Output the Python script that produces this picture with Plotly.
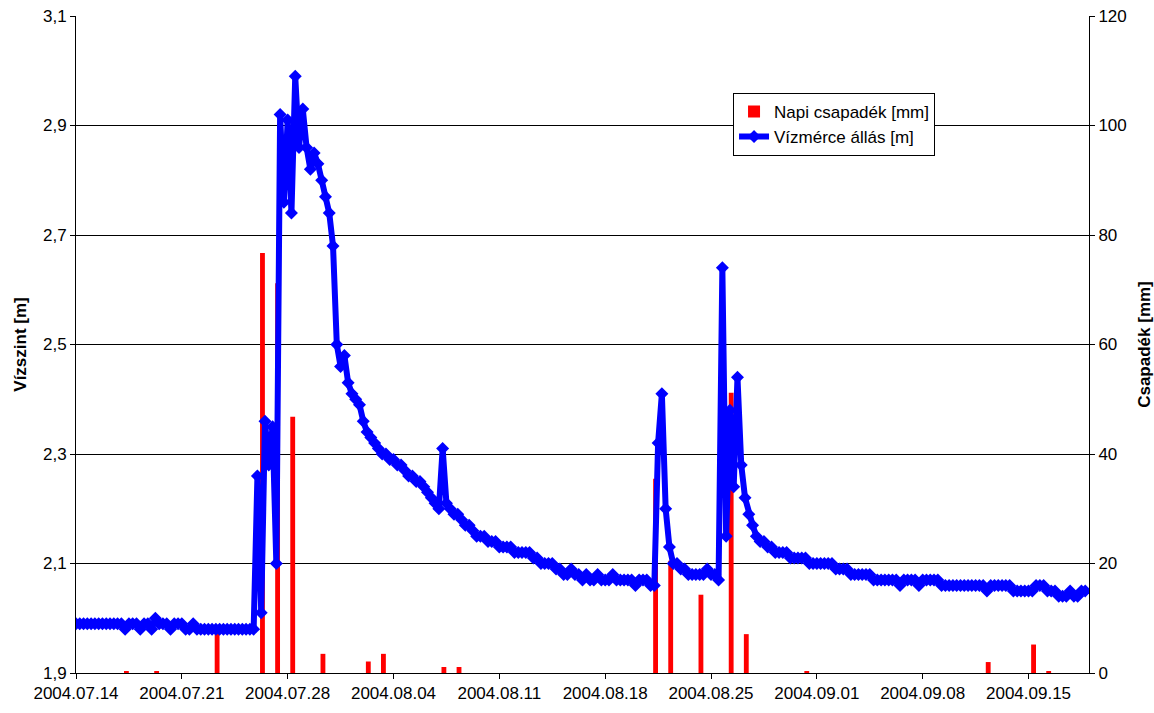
import plotly.graph_objects as go
import pandas as pd

# ---------------- data ----------------
# Water gauge level [m], one reading every 6 hours from 2004-07-14 00:00
level_start = "2004-07-14 00:00"
level_step = "6h"
level_m = [
    1.99, 1.99, 1.99, 1.99,   # 07.14
    1.99, 1.99, 1.99, 1.99,   # 07.15
    1.99, 1.99, 1.99, 1.99,   # 07.16
    1.99, 1.98, 1.99, 1.99,   # 07.17
    1.99, 1.98, 1.99, 1.99,   # 07.18
    1.98, 2.00, 1.99, 1.99,   # 07.19
    1.99, 1.98, 1.99, 1.99,   # 07.20
    1.99, 1.98, 1.98, 1.99,   # 07.21
    1.98, 1.98, 1.98, 1.98,   # 07.22
    1.98, 1.98, 1.98, 1.98,   # 07.23
    1.98, 1.98, 1.98, 1.98,   # 07.24
    1.98, 1.98, 1.98, 1.98,   # 07.25
    2.26, 2.01, 2.36, 2.28,   # 07.26
    2.35, 2.10, 2.92, 2.76,   # 07.27
    2.91, 2.74, 2.99, 2.86,   # 07.28
    2.93, 2.86, 2.82, 2.85,   # 07.29
    2.83, 2.80, 2.77, 2.74,   # 07.30
    2.68, 2.50, 2.46, 2.48,   # 07.31
    2.43, 2.41, 2.40, 2.39,   # 08.01
    2.36, 2.34, 2.33, 2.32,   # 08.02
    2.31, 2.30, 2.30, 2.29,   # 08.03
    2.29, 2.28, 2.28, 2.27,   # 08.04
    2.26, 2.26, 2.25, 2.25,   # 08.05
    2.24, 2.23, 2.22, 2.21,   # 08.06
    2.20, 2.31, 2.21, 2.20,   # 08.07
    2.19, 2.19, 2.18, 2.17,   # 08.08
    2.17, 2.16, 2.15, 2.15,   # 08.09
    2.15, 2.14, 2.14, 2.14,   # 08.10
    2.13, 2.13, 2.13, 2.13,   # 08.11
    2.12, 2.12, 2.12, 2.12,   # 08.12
    2.12, 2.11, 2.11, 2.10,   # 08.13
    2.10, 2.10, 2.10, 2.09,   # 08.14
    2.09, 2.08, 2.08, 2.09,   # 08.15
    2.08, 2.08, 2.07, 2.08,   # 08.16
    2.07, 2.07, 2.08, 2.07,   # 08.17
    2.07, 2.07, 2.08, 2.07,   # 08.18
    2.07, 2.07, 2.07, 2.07,   # 08.19
    2.06, 2.07, 2.07, 2.07,   # 08.20
    2.06, 2.06, 2.32, 2.41,   # 08.21
    2.20, 2.13, 2.10, 2.10,   # 08.22
    2.09, 2.09, 2.08, 2.08,   # 08.23
    2.08, 2.08, 2.08, 2.09,   # 08.24
    2.08, 2.08, 2.07, 2.64,   # 08.25
    2.15, 2.38, 2.24, 2.44,   # 08.26
    2.28, 2.22, 2.19, 2.17,   # 08.27
    2.15, 2.14, 2.14, 2.13,   # 08.28
    2.13, 2.12, 2.12, 2.12,   # 08.29
    2.12, 2.11, 2.11, 2.11,   # 08.30
    2.11, 2.11, 2.10, 2.10,   # 08.31
    2.10, 2.10, 2.10, 2.10,   # 09.01
    2.10, 2.09, 2.09, 2.09,   # 09.02
    2.09, 2.08, 2.08, 2.08,   # 09.03
    2.08, 2.08, 2.08, 2.07,   # 09.04
    2.07, 2.07, 2.07, 2.07,   # 09.05
    2.07, 2.07, 2.06, 2.07,   # 09.06
    2.07, 2.07, 2.07, 2.06,   # 09.07
    2.07, 2.07, 2.07, 2.07,   # 09.08
    2.07, 2.06, 2.06, 2.06,   # 09.09
    2.06, 2.06, 2.06, 2.06,   # 09.10
    2.06, 2.06, 2.06, 2.06,   # 09.11
    2.06, 2.05, 2.06, 2.06,   # 09.12
    2.06, 2.06, 2.06, 2.06,   # 09.13
    2.05, 2.05, 2.05, 2.05,   # 09.14
    2.05, 2.05, 2.06, 2.06,   # 09.15
    2.06, 2.05, 2.05, 2.05,   # 09.16
    2.04, 2.04, 2.04, 2.05,   # 09.17
    2.04, 2.04, 2.05, 2.05,   # 09.18
]

# Daily precipitation [mm] (measured in the morning of the given day)
rain_dates = [
    "2004-07-17 08:00", "2004-07-19 08:00", "2004-07-23 08:00",
    "2004-07-26 08:00", "2004-07-27 08:00", "2004-07-28 08:00",
    "2004-07-30 08:00", "2004-08-02 08:00", "2004-08-03 08:00",
    "2004-08-07 08:00", "2004-08-08 08:00", "2004-08-21 08:00",
    "2004-08-22 08:00", "2004-08-24 08:00", "2004-08-26 08:00",
    "2004-08-27 08:00", "2004-08-31 08:00", "2004-09-12 08:00",
    "2004-09-15 08:00", "2004-09-16 08:00",
]
rain_mm = [
    0.2, 0.2, 7.4,
    76.7, 71.2, 46.8,
    3.5, 2.1, 3.5,
    1.1, 1.1, 35.5,
    20.5, 14.3, 51.2,
    7.1, 0.2, 2.0,
    5.2, 0.2,
]

tick_dates = ["2004-07-14", "2004-07-21", "2004-07-28", "2004-08-04",
              "2004-08-11", "2004-08-18", "2004-08-25", "2004-09-01",
              "2004-09-08", "2004-09-15"]
tick_labels = ["2004.07.14", "2004.07.21", "2004.07.28", "2004.08.04",
               "2004.08.11", "2004.08.18", "2004.08.25", "2004.09.01",
               "2004.09.08", "2004.09.15"]

# ---------------- figure ----------------
level_time = pd.date_range(level_start, periods=len(level_m), freq=level_step)
rain_time = pd.to_datetime(rain_dates)

FONT = "Arial, 'Liberation Sans', sans-serif"

fig = go.Figure()
fig.add_trace(go.Bar(
    x=rain_time, y=rain_mm, name="Napi csapadék [mm]",
    marker=dict(color="#FF0000", line=dict(width=0)),
    width=0.32 * 86400000, yaxis="y",
))
fig.add_trace(go.Scatter(
    x=level_time, y=level_m, name="Vízmérce állás [m]",
    mode="lines+markers",
    line=dict(color="#0000FF", width=6),
    marker=dict(symbol="diamond", size=10, color="#0000FF"),
    yaxis="y2",
))

fig.update_layout(
    width=1154, height=713,
    margin=dict(l=76, r=65, t=16, b=40, autoexpand=False),
    paper_bgcolor="white", plot_bgcolor="white",
    separators=", ",
    font=dict(family=FONT, size=17, color="black"),
    showlegend=True,
    legend=dict(
        x=0.6486, y=0.883, xanchor="left", yanchor="top",
        bordercolor="black", borderwidth=1, bgcolor="white",
        font=dict(family=FONT, size=17, color="black"),
        tracegroupgap=0,
    ),
    xaxis=dict(
        type="date", range=["2004-07-14", "2004-09-19"],
        tickmode="array", tickvals=tick_dates, ticktext=tick_labels,
        ticks="outside", ticklen=5, tickcolor="black",
        showline=True, linecolor="black", linewidth=1,
        showgrid=False, zeroline=False,
        tickfont=dict(size=17),
    ),
    yaxis=dict(
        side="right", range=[0, 120], dtick=20, tick0=0,
        ticks="outside", ticklen=5, tickcolor="black",
        showline=True, linecolor="black", linewidth=1,
        showgrid=True, gridcolor="black", gridwidth=1,
        zeroline=False,
        title=dict(text="<b>Csapadék [mm]</b>", font=dict(size=17), standoff=12),
        tickfont=dict(size=17),
    ),
    yaxis2=dict(
        overlaying="y", side="left", anchor="x",
        range=[1.9, 3.1], dtick=0.2, tick0=1.9, tickformat=".1f",
        ticks="outside", ticklen=5, tickcolor="black",
        showline=True, linecolor="black", linewidth=1,
        showgrid=False, zeroline=False,
        title=dict(text="<b>Vízszint [m]</b>", font=dict(size=17), standoff=12),
        tickfont=dict(size=17),
    ),
)

fig.write_html("out.html")
